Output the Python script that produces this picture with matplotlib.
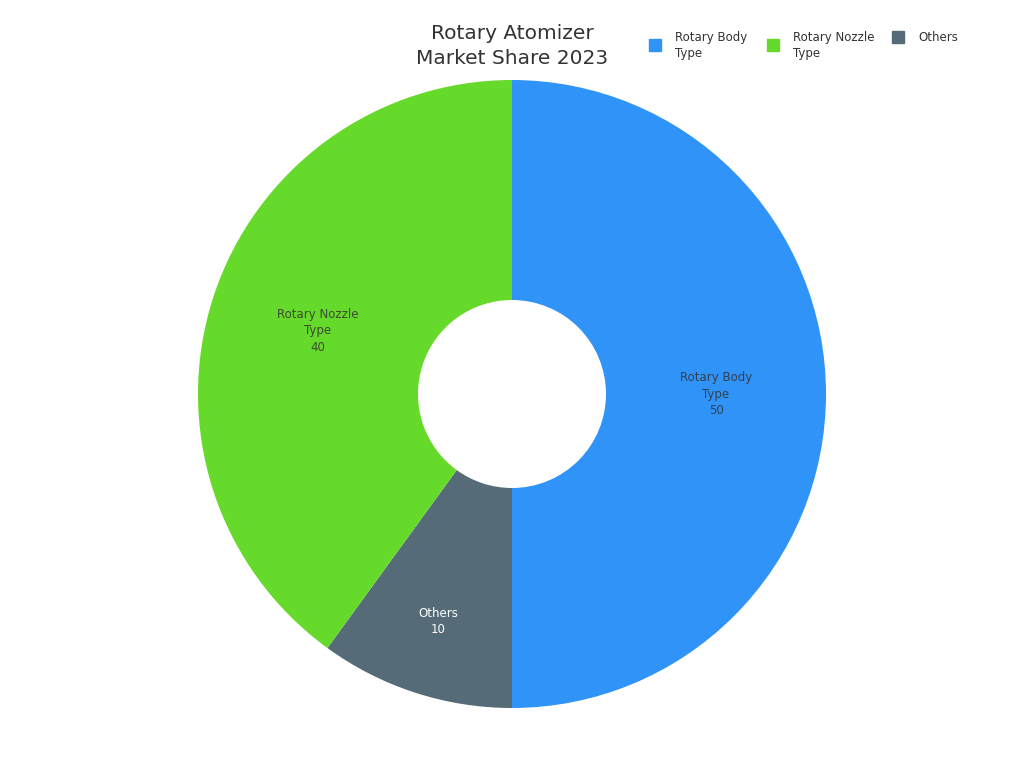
import matplotlib
matplotlib.use("Agg")
import matplotlib.pyplot as plt
import numpy as np

# chart data
categories = ["Rotary Body\nType", "Rotary Nozzle\nType", "Others"]
values = [50, 40, 10]
colors = ["#2F93F8", "#66DA2A", "#556C78"]
label_colors = ["#333333", "#333333", "#FFFFFF"]
# drawing order, clockwise from the top
draw_order = [0, 2, 1]

W, H = 1024, 768
fig = plt.figure(figsize=(W / 100, H / 100), dpi=100)
ax = fig.add_axes([0, 0, 1, 1])

outer = 314 / H
inner = 94 / H
center = (0.5, 1 - 394 / H)

wedges, _ = ax.pie(
    [values[i] for i in draw_order],
    colors=[colors[i] for i in draw_order],
    startangle=90,
    counterclock=False,
    radius=outer,
    center=center,
    wedgeprops=dict(width=outer - inner, linewidth=0),
)

# labels inside the ring; the small slice puts its label further out
label_r = [204 / H, 204 / H, 239 / H]
for w, i in zip(wedges, draw_order):
    ang = np.deg2rad((w.theta1 + w.theta2) / 2)
    x = center[0] + label_r[i] * np.cos(ang)
    y = center[1] + label_r[i] * np.sin(ang)
    ax.text(x, y, "%s\n%d" % (categories[i], values[i]), ha="center", va="center",
            fontsize=8.5, color=label_colors[i], alpha=0.85 if i != 2 else 1.0,
            linespacing=1.35)

ax.set_xlim(0, 1)
ax.set_ylim(0, 1)
ax.set_aspect("equal", adjustable="datalim")
ax.axis("off")

fig.text(0.5, 1 - 46 / H, "Rotary Atomizer\nMarket Share 2023", ha="center", va="center",
         fontsize=14.5, color="#333333", linespacing=1.45)

# legend, items top aligned like the original
legend_x = [655, 773, 898]
for x, name, c in zip(legend_x, categories, colors):
    nlines = name.count("\n") + 1
    top = 31
    mid_y = top + 8 * nlines - 2
    fig.text((x + 20) / W, 1 - top / H, name, ha="left", va="top", fontsize=8.5,
             color="#333333", linespacing=1.35)
    fig.add_artist(plt.Line2D([x / W], [1 - mid_y / H], marker="s", linestyle="",
                              markersize=9, markerfacecolor=c, markeredgecolor=c,
                              transform=fig.transFigure))

fig.savefig("out.png", dpi=100)
